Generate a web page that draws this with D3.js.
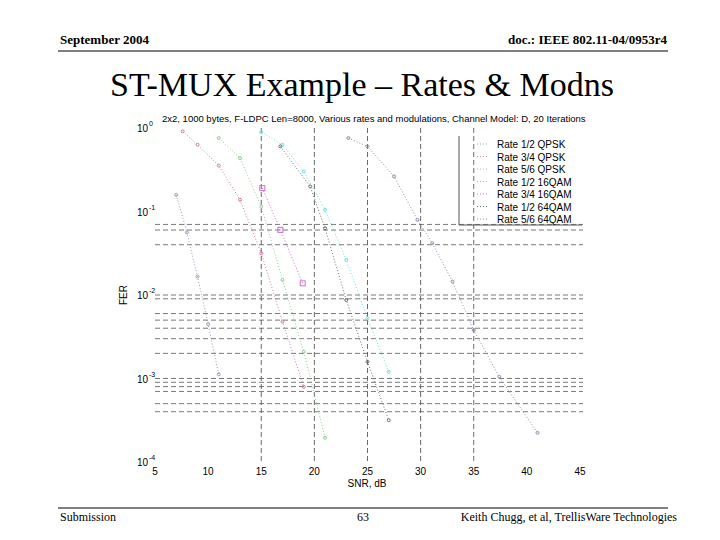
<!DOCTYPE html><html><head><meta charset="utf-8">
<script src="https://d3js.org/d3.v7.min.js"></script>
<style>body{margin:0;background:#fff}</style></head><body><svg id="c" width="720" height="540"></svg>
<script>
const seriesNames=["Rate 1/2 QPSK","Rate 3/4 QPSK","Rate 5/6 QPSK","Rate 1/2 16QAM","Rate 3/4 16QAM","Rate 1/2 64QAM","Rate 5/6 64QAM"];
const seriesColors=["#9a9ab8","#d080a0","#90d090","#70e0e0","#d070d0","#707070","#9090b0"];
const seriesX=[[7,8,9,10,11],[7.6,9,11,13,15,17,19],[11,13,15,17,19,21],[15,17,19,21,23,25,27],[15.1,16.8,18.9],[16.8,19.6,21,23,25,27],[23.2,25,27.5,29.7,31.1,33,35,37.4,41]];
const seriesLogY=[[-0.8,-1.25,-1.78,-2.35,-2.95],[-0.04,-0.2,-0.45,-0.86,-1.5,-2.32,-3.1],[-0.12,-0.36,-0.94,-1.82,-2.68,-3.71],[-0.05,-0.2,-0.52,-0.98,-1.58,-2.28,-2.92],[-0.72,-1.22,-1.86],[-0.22,-0.7,-1.2,-2.06,-2.8,-3.5],[-0.12,-0.22,-0.58,-1.1,-1.38,-1.84,-2.42,-2.98,-3.65]];
const xTicks=[5,10,15,20,25,30,35,40,45];
const yExps=[0,-1,-2,-3,-4];
const hGrid=[0.07,0.06,0.04,0.01,0.009,0.006,0.005,0.004,0.003,0.002,0.001,0.0009,0.0008,0.0007,0.0005,0.0004];
const svg=d3.select("#c");
const x=d3.scaleLinear().domain([5,45]).range([155,580]);
const y=d3.scaleLog().domain([1,1e-4]).range([128,462]);
const T="Times New Roman, Liberation Serif, serif", A="Liberation Sans, Arial, sans-serif";
svg.append("text").attr("x",60).attr("y",44).attr("font-family",T).attr("font-weight","bold").attr("font-size",13).text("September 2004");
svg.append("text").attr("x",667).attr("y",44).attr("text-anchor","end").attr("font-family",T).attr("font-weight","bold").attr("font-size",13).text("doc.: IEEE 802.11-04/0953r4");
svg.append("line").attr("x1",58).attr("x2",668).attr("y1",51).attr("y2",51).attr("stroke","#000");
svg.append("text").attr("x",362).attr("y",96).attr("text-anchor","middle").attr("font-family",T).attr("font-size",34).text("ST-MUX Example – Rates & Modns");
svg.append("line").attr("x1",58).attr("x2",668).attr("y1",508).attr("y2",508).attr("stroke","#000");
svg.append("text").attr("x",60).attr("y",521).attr("font-family",T).attr("font-size",12).text("Submission");
svg.append("text").attr("x",363).attr("y",521).attr("text-anchor","middle").attr("font-family",T).attr("font-size",12).text("63");
svg.append("text").attr("x",677).attr("y",521).attr("text-anchor","end").attr("font-family",T).attr("font-size",12).text("Keith Chugg, et al, TrellisWare Technologies");
const g=svg.append("g");
g.selectAll("line.v").data(xTicks.slice(2,7)).join("line").attr("x1",d=>x(d)).attr("x2",d=>x(d)).attr("y1",128).attr("y2",462).attr("stroke","#444").attr("stroke-dasharray","5,3").attr("stroke-width",0.8);
g.selectAll("line.h").data(hGrid).join("line").attr("x1",155).attr("x2",583).attr("y1",d=>y(d)).attr("y2",d=>y(d)).attr("stroke","#555").attr("stroke-dasharray","5,3").attr("stroke-width",0.8);
svg.selectAll("text.xt").data(xTicks).join("text").attr("x",d=>x(d)).attr("y",475).attr("text-anchor","middle").attr("font-family",A).attr("font-size",10).text(d=>d);
const yt=svg.selectAll("g.yt").data(yExps).join("g").attr("transform",d=>`translate(148,${y(Math.pow(10,d))+4})`);
yt.append("text").attr("text-anchor","end").attr("font-family",A).attr("font-size",10).text("10");
yt.append("text").attr("x",1).attr("y",-6).attr("font-family",A).attr("font-size",7).text(d=>d);
svg.append("text").attr("x",367).attr("y",487).attr("text-anchor","middle").attr("font-family",A).attr("font-size",10).text("SNR, dB");
svg.append("text").attr("transform","translate(127,295) rotate(-90)").attr("text-anchor","middle").attr("font-family",A).attr("font-size",10).text("FER");
svg.append("text").attr("x",162).attr("y",122).attr("font-family",A).attr("font-size",9.5).text("2x2, 1000 bytes, F-LDPC Len=8000, Various rates and modulations, Channel Model: D, 20 Iterations");
const line=d3.line().x(d=>x(d[0])).y(d=>y(Math.pow(10,d[1])));
seriesNames.forEach((n,i)=>{
  const pts=seriesX[i].map((v,j)=>[v,seriesLogY[i][j]]);
  svg.append("path").attr("d",line(pts)).attr("fill","none").attr("stroke",seriesColors[i]).attr("stroke-width",1).attr("stroke-dasharray","1,2");
  if(i==4) svg.selectAll(null).data(pts).join("rect").attr("x",d=>x(d[0])-2.5).attr("y",d=>y(Math.pow(10,d[1]))-2.5).attr("width",5).attr("height",5).attr("fill","none").attr("stroke",seriesColors[i]);
  else svg.selectAll(null).data(pts).join("circle").attr("cx",d=>x(d[0])).attr("cy",d=>y(Math.pow(10,d[1]))).attr("r",1.5).attr("fill","none").attr("stroke",seriesColors[i]);
});
svg.append("path").attr("d","M459,136V225H582").attr("fill","none").attr("stroke","#555");
svg.selectAll("text.lg").data(seriesNames).join("text").attr("x",497).attr("y",(d,i)=>148+i*12.5).attr("font-family",A).attr("font-size",10).text(d=>d);
svg.selectAll("line.lg").data(seriesNames).join("line").attr("x1",477).attr("x2",487).attr("y1",(d,i)=>144+i*12.5).attr("y2",(d,i)=>144+i*12.5).attr("stroke",(d,i)=>seriesColors[i]).attr("stroke-dasharray","1,2");
</script></body></html>
